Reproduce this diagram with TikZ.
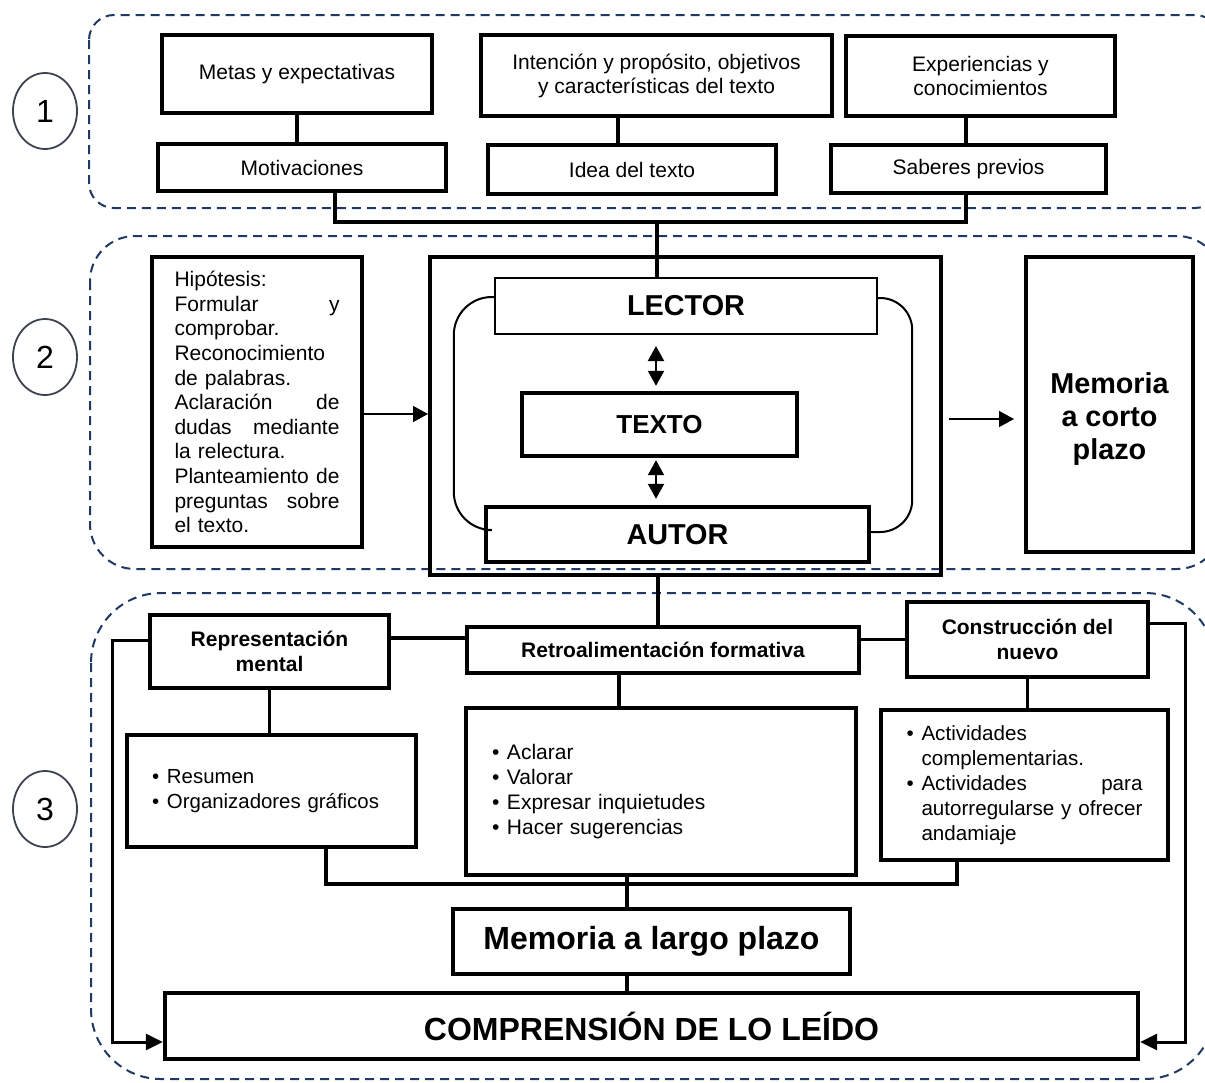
\documentclass[tikz,border=0pt]{standalone}
\usepackage{fontspec}
\setmainfont{Liberation Sans}
\usetikzlibrary{arrows.meta,shapes.geometric}
\definecolor{azulzona}{RGB}{31,56,100}
\definecolor{grisnum}{RGB}{60,66,80}
\newcommand{\estira}{\hskip 0pt plus 1filll\relax}
\newcommand{\vineta}[1]{\hyphenpenalty=10000\hangindent=7.5pt\hangafter=1\noindent\makebox[7.5pt][l]{\textbullet}#1\par}

\begin{document}
\begin{tikzpicture}[x=0.5pt,y=-0.5pt]
  \tikzstyle{zona}=[draw=azulzona, line width=1pt, dash pattern=on 4.5pt off 3pt]
  \tikzstyle{numero}=[ellipse, draw=grisnum, line width=0.9pt, minimum width=32pt,
  minimum height=38pt, inner sep=0pt, font=\fontsize{16}{18}\selectfont]
  \tikzstyle{caja}=[rectangle, draw, line width=2.2pt, inner sep=0pt, align=center,
  font=\fontsize{10.5}{12}\selectfont]
  \tikzstyle{cajab}=[caja, font=\fontsize{10.5}{12.5}\selectfont\bfseries]
  \tikzstyle{lista}=[caja, align=left, font=\fontsize{10.5}{12.5}\selectfont]
  \tikzstyle{linea}=[line width=1.6pt]
  \tikzstyle{curva}=[line width=1pt]
  \tikzstyle{flecha}=[-{Triangle[length=7.5pt,width=8pt]}, line width=0.7pt]
  \tikzstyle{dflecha}=[{Triangle[length=7.5pt,width=8pt]}-{Triangle[length=7.5pt,width=8pt]}, line width=1pt]
  \tikzstyle{flechab}=[-{Triangle[length=8.5pt,width=8pt]}, line width=1.5pt]
  \useasboundingbox (0,0) rectangle (1205,1082);

  % zonas
  \draw[zona, rounded corners=12.5pt] (89,15) rectangle (1220,208);
  \draw[zona, rounded corners=22.5pt] (90,236) rectangle (1222,569);
  \draw[zona, rounded corners=35pt] (91,593) rectangle (1215,1079);
  \foreach \n/\y in {1/111,2/357,3/809} {
    \node[numero] (num\n) at (45,\y) {\n};
  }

  % 1
  \node[caja, minimum width=135pt, minimum height=39pt] (metas) at (297,74) {Metas y expectativas};
  \node[caja, minimum width=144pt, minimum height=23.5pt] (motiv) at (302,167.5) {Motivaciones};
  \node[caja, minimum width=175.5pt, minimum height=40.5pt] (intencion) at (656.5,75.5)
  {Intención y propósito, objetivos\\y características del texto};
  \node[caja, minimum width=144pt, minimum height=24.5pt] (idea) at (632,169.5) {Idea del texto};
  \node[caja, minimum width=134.5pt, minimum height=40pt] (exper) at (980.5,76) {Experiencias y\\conocimientos};
  \node[caja, minimum width=137.5pt, minimum height=24pt] (saberes) at (968.5,169) {Saberes previos};
  \draw[linea] (metas.south) -- (metas.south |- motiv.north);
  \draw[linea] (618,0 |- intencion.south) -- (618,0 |- idea.north);
  \draw[linea] (966,0 |- exper.south) -- (966,0 |- saberes.north);
  \coordinate (union1) at (657,222);
  \draw[linea] (335,0 |- motiv.south) |- (union1) -| (966,0 |- saberes.south);

  % 2
  \node[caja, align=left, text width=82.5pt, minimum width=105pt, minimum height=145pt,
  font=\fontsize{10.5}{12.3}\selectfont] (hipo) at (257,402)
  {Hipótesis:\\ Formular\estira y\\ comprobar.\\ Reconocimiento\\ de palabras.\\
   Aclaración\estira de\\ dudas\estira mediante\\ la relectura.\\ Planteamiento\estira de\\
   preguntas\estira sobre\\ el texto.};
  \node[caja, line width=2pt, minimum width=255.5pt, minimum height=159pt] (central) at (685.5,416) {};
  \node[caja, line width=1pt, minimum width=191pt, minimum height=28pt,
  font=\fontsize{14.4}{16}\selectfont\bfseries] (lector) at (686,306) {LECTOR};
  \node[caja, minimum width=137.5pt, minimum height=31.5pt,
  font=\fontsize{13}{15}\selectfont\bfseries] (texto) at (659.5,424.5) {TEXTO};
  \node[caja, minimum width=191.5pt, minimum height=27.5pt,
  font=\fontsize{14.4}{16}\selectfont\bfseries] (autor) at (677.5,534.5) {AUTOR};
  \node[caja, line width=2pt, minimum width=83.5pt, minimum height=147.5pt,
  font=\fontsize{14.4}{16.5}\selectfont\bfseries] (memcorto) at (1109.5,404.5)
  {\rule{0pt}{24.5pt}Memoria\\a corto\\plazo};
  \draw[linea] (union1) -- (union1 |- lector.north);
  \draw[flecha] ([yshift=-6pt]hipo.east) -- ([yshift=-6pt]hipo.east -| central.west);
  \draw[dflecha, shorten <=5.5pt, shorten >=2.5pt] (656,0 |- lector.south) -- (656,0 |- texto.north);
  \draw[dflecha, shorten <=1pt, shorten >=3pt] (656,0 |- texto.south) -- (656,0 |- autor.north);
  \draw[curva, rounded corners=19pt] ([yshift=4.5pt]lector.west) -| ([xshift=-15pt,yshift=2.25pt]autor.west)
    -- ([yshift=2.25pt]autor.west);
  \draw[curva, rounded corners=16pt] ([yshift=4pt]lector.east) -| ([xshift=20.5pt,yshift=1.25pt]autor.east)
    -- ([yshift=1.25pt]autor.east);
  \draw[flecha, shorten <=3pt, shorten >=5pt] ([yshift=-1.5pt]central.east) -- ([yshift=-1.5pt]central.east -| memcorto.west);

  % 3
  \node[cajab, minimum width=119.5pt, minimum height=36.5pt] (repre) at (269.5,651.5) {Representación\\mental};
  \node[cajab, minimum width=196pt, minimum height=23pt] (retro) at (663,650) {Retroalimentación formativa};
  \node[cajab, minimum width=120.5pt, minimum height=37.5pt] (constr) at (1027.5,639.5) {Construcción del\\nuevo};
  \node[lista, text width=119.5pt, minimum width=144.5pt, minimum height=56pt,
  font=\fontsize{10.2}{12.5}\selectfont] (resumen) at (271.5,791)
  {\vineta{Resumen}\vineta{Organizadores gráficos}};
  \node[lista, text width=169pt, minimum width=195pt, minimum height=83.5pt] (aclarar) at (661,791.5)
  {\vineta{Aclarar}\vineta{Valorar}\vineta{Expresar inquietudes}\vineta{Hacer sugerencias}};
  \node[lista, text width=118pt, minimum width=143.5pt, minimum height=75pt,
  font=\fontsize{10.3}{12.5}\selectfont] (activ) at (1024.5,785)
  {\vineta{Actividades\newline complementarias.}\vineta{Actividades\estira para\newline
   autorregularse y ofrecer\newline andamiaje}};
  \node[caja, minimum width=198.5pt, minimum height=32.5pt,
  font=\fontsize{16}{18}\selectfont\bfseries] (largo) at (651.5,941.5) {Memoria a largo plazo};
  \node[caja, minimum width=486.5pt, minimum height=33pt,
  font=\fontsize{16}{18}\selectfont\bfseries] (compr) at (651.5,1026) {COMPRENSIÓN DE LO LEÍDO};
  \draw[linea] (658,0 |- central.south) -- (658,0 |- retro.north);
  \draw[linea] ([yshift=6.75pt]repre.east) -- ([yshift=6.75pt]repre.east -| retro.west);
  \draw[linea] (constr.west) -- (constr.west -| retro.east);
  \draw[flechab] ([yshift=5.75pt]repre.west) -| ([xshift=-25pt,yshift=-8pt]compr.west) -- ([yshift=-8pt]compr.west);
  \draw[flechab] ([yshift=8.25pt]constr.east) -| ([xshift=22.5pt,yshift=-8pt]compr.east) -- ([yshift=-8pt]compr.east);
  \draw[linea] (repre.south) -- (repre.south |- resumen.north);
  \draw[linea] (619,0 |- retro.south) -- (619,0 |- aclarar.north);
  \draw[linea] (constr.south) -- (constr.south |- activ.north);
  \coordinate (union2) at (627,884);
  \draw[linea] (326,0 |- resumen.south) |- (union2) -| (957,0 |- activ.south);
  \draw[linea] (union2 |- aclarar.south) -- (union2 |- largo.north);
  \draw[linea] (union2 |- largo.south) -- (union2 |- compr.north);
\end{tikzpicture}
\end{document}
